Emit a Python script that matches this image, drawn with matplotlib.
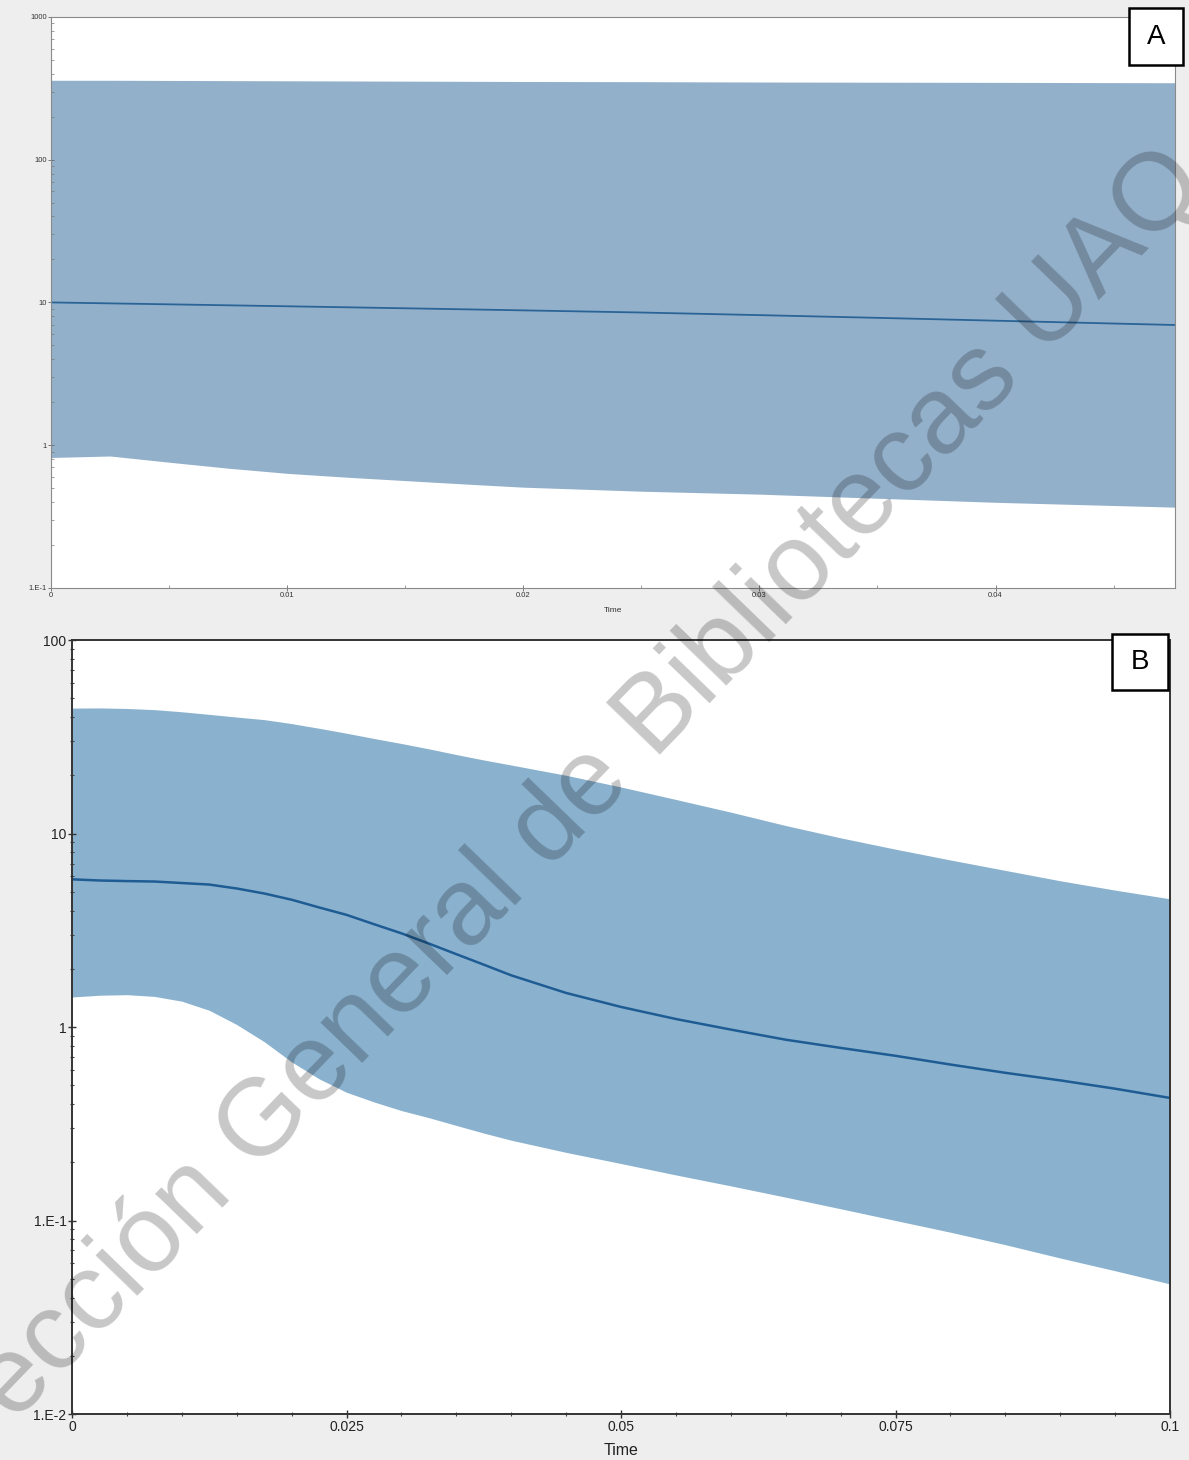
import matplotlib
matplotlib.use("Agg")
import matplotlib.pyplot as plt
from matplotlib.patches import Rectangle
from matplotlib.ticker import FixedLocator, FixedFormatter, LogLocator, MultipleLocator, NullFormatter

plt.rcParams['font.family'] = ['Liberation Sans', 'DejaVu Sans']

# -----------------------------------------------------------
# data
# -----------------------------------------------------------
time_a = [0, 0.0025, 0.005, 0.0075, 0.01, 0.0125, 0.015, 0.0175, 0.02,
          0.025, 0.03, 0.035, 0.04, 0.0476]
upper_a = [360, 360, 359, 358, 357, 356, 355, 354, 353, 352, 350, 349, 348, 346]
median_a = [10.0, 9.85, 9.7, 9.55, 9.4, 9.25, 9.1, 8.95, 8.8, 8.5, 8.15, 7.8, 7.45, 6.95]
lower_a = [0.82, 0.84, 0.76, 0.69, 0.635, 0.597, 0.565, 0.535, 0.508,
           0.476, 0.454, 0.425, 0.398, 0.368]

time_b = [0, 0.0025, 0.005, 0.0075, 0.01, 0.0125, 0.015, 0.0175, 0.02, 0.0225,
          0.025, 0.0275, 0.03, 0.0325, 0.035, 0.0375, 0.04, 0.045, 0.05, 0.055,
          0.06, 0.065, 0.07, 0.075, 0.08, 0.085, 0.09, 0.095, 0.1]
upper_b = [44.5, 44.6, 44.3, 43.7, 42.6, 41.3, 40.0, 38.8, 37.0, 35.0,
           33.0, 31.0, 29.2, 27.4, 25.6, 24.0, 22.6, 20.0, 17.4, 15.0,
           12.9, 11.0, 9.5, 8.3, 7.3, 6.45, 5.7, 5.1, 4.6]
median_b = [5.8, 5.72, 5.68, 5.65, 5.55, 5.45, 5.2, 4.9, 4.55, 4.15,
            3.8, 3.4, 3.05, 2.7, 2.38, 2.1, 1.85, 1.5, 1.27, 1.1,
            0.97, 0.86, 0.78, 0.71, 0.64, 0.58, 0.53, 0.48, 0.43]
lower_b = [1.43, 1.46, 1.47, 1.44, 1.36, 1.22, 1.03, 0.84, 0.66, 0.54,
           0.46, 0.41, 0.37, 0.34, 0.31, 0.283, 0.26, 0.225, 0.197, 0.172,
           0.151, 0.132, 0.115, 0.1, 0.087, 0.075, 0.064, 0.055, 0.047]

yticks_a = [0.1, 1, 10, 100, 1000]
ylabels_a = ["1.E-1", "1", "10", "100", "1000"]
xticks_a = [0, 0.01, 0.02, 0.03, 0.04]
xlabels_a = ["0", "0.01", "0.02", "0.03", "0.04"]

yticks_b = [0.01, 0.1, 1, 10, 100]
ylabels_b = ["1.E-2", "1.E-1", "1", "10", "100"]
xticks_b = [0, 0.025, 0.05, 0.075, 0.1]
xlabels_b = ["0", "0.025", "0.05", "0.075", "0.1"]

watermark = "Dirección General de Bibliotecas UAQ"

fig = plt.figure(figsize=(11.89, 14.6), dpi=100, facecolor="#eeeeee")

# -----------------------------------------------------------
# panel A
# -----------------------------------------------------------
ax1 = fig.add_axes([0.0429, 0.5973, 0.9453, 0.3911])
ax1.fill_between(time_a, lower_a, upper_a, color="#93b0cb", lw=0)
ax1.plot(time_a, median_a, color="#2a6496", lw=1.3)
ax1.set_yscale("log")
ax1.set_xlim(0, 0.0476)
ax1.set_ylim(0.1, 1000)
ax1.yaxis.set_major_locator(FixedLocator(yticks_a))
ax1.yaxis.set_major_formatter(FixedFormatter(ylabels_a))
ax1.yaxis.set_minor_locator(LogLocator(base=10, subs=range(2, 10)))
ax1.yaxis.set_minor_formatter(NullFormatter())
ax1.xaxis.set_major_locator(FixedLocator(xticks_a))
ax1.xaxis.set_major_formatter(FixedFormatter(xlabels_a))
ax1.xaxis.set_minor_locator(MultipleLocator(0.005))
ax1.tick_params(which="major", direction="inout", length=4, width=0.6,
                color="#666666", labelsize=5.5, labelcolor="#333333", pad=1)
ax1.tick_params(which="minor", direction="in", length=2, width=0.5, color="#777777")
for s in ax1.spines.values():
    s.set_color("#8a8a8a")
    s.set_linewidth(0.8)
ax1.set_xlabel("Time", fontsize=6, color="#333333", labelpad=6)

# -----------------------------------------------------------
# panel B
# -----------------------------------------------------------
ax2 = fig.add_axes([0.0606, 0.0315, 0.9235, 0.5301])
ax2.fill_between(time_b, lower_b, upper_b, color="#8ab2cf", lw=0)
ax2.plot(time_b, median_b, color="#1f5c94", lw=1.8)
ax2.set_yscale("log")
ax2.set_xlim(0, 0.1)
ax2.set_ylim(0.01, 100)
ax2.yaxis.set_major_locator(FixedLocator(yticks_b))
ax2.yaxis.set_major_formatter(FixedFormatter(ylabels_b))
ax2.yaxis.set_minor_locator(LogLocator(base=10, subs=range(2, 10)))
ax2.yaxis.set_minor_formatter(NullFormatter())
ax2.xaxis.set_major_locator(FixedLocator(xticks_b))
ax2.xaxis.set_major_formatter(FixedFormatter(xlabels_b))
ax2.xaxis.set_minor_locator(MultipleLocator(0.005))
ax2.tick_params(which="major", direction="inout", length=6, width=1,
                color="#333333", labelsize=10, labelcolor="#222222", pad=1)
ax2.tick_params(which="minor", direction="inout", length=3, width=0.8, color="#444444")
for s in ax2.spines.values():
    s.set_color("#333333")
    s.set_linewidth(1.4)
ax2.set_xlabel("Time", fontsize=11.5, color="#222222", labelpad=7)

# panel labels
for (x0, y0, w, h, lab) in [(0.9495, 0.9555, 0.0454, 0.039, "A"),
                            (0.9352, 0.5274, 0.0471, 0.0384, "B")]:
    fig.patches.append(Rectangle((x0, y0), w, h, transform=fig.transFigure,
                                 facecolor="white", edgecolor="black", lw=1.8, zorder=5))
    fig.text(x0 + w / 2, y0 + h / 2, lab, ha="center", va="center",
             fontsize=20, zorder=6)

# watermark
fig.text(0.4567, 0.4274, watermark, rotation=46, rotation_mode="anchor",
         ha="center", va="center", fontsize=79, color="black", alpha=0.22,
         zorder=10)

fig.savefig("out.png", dpi=100, facecolor=fig.get_facecolor())
